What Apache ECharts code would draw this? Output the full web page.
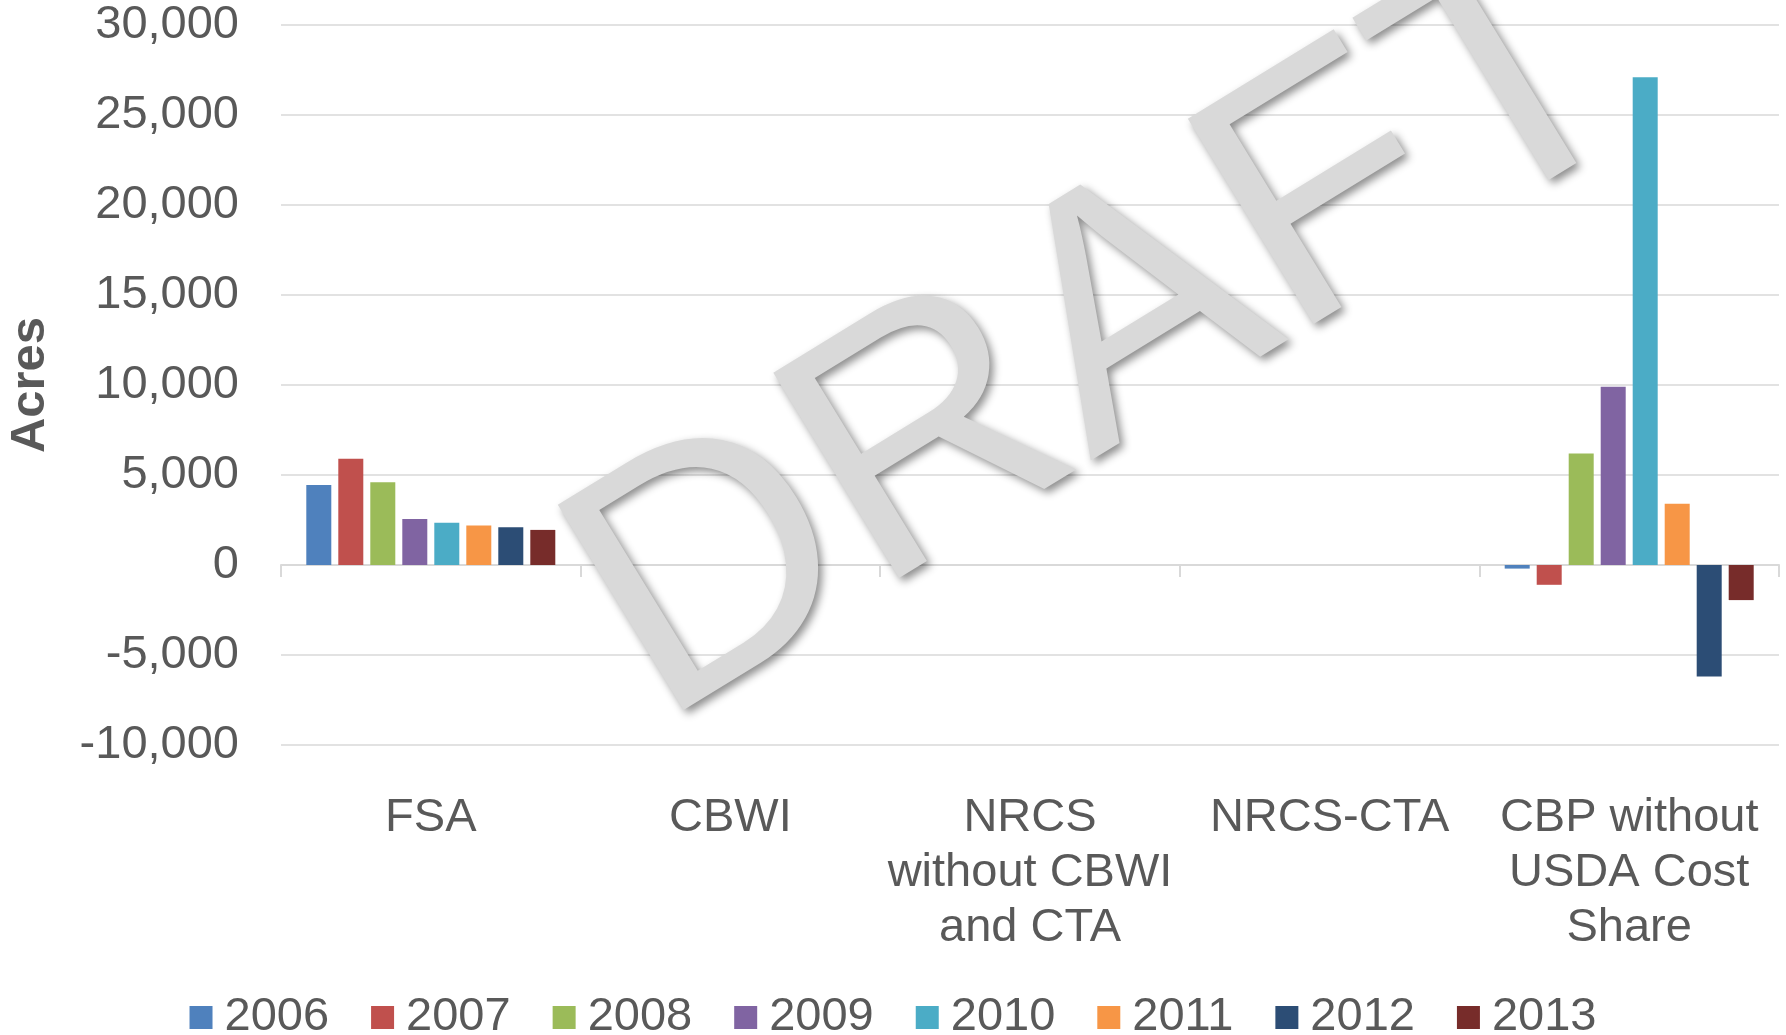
<!DOCTYPE html>
<html>
<head>
<meta charset="utf-8">
<script src="https://cdn.jsdelivr.net/npm/echarts@6/dist/echarts.min.js"></script>
<style>
  html, body { margin: 0; padding: 0; background: #fff; }
  #chart { width: 1786px; height: 1035px; }
</style>
</head>
<body>
<div id="chart"></div>
<script>
var years = ['2006', '2007', '2008', '2009', '2010', '2011', '2012', '2013'];
var categories = ['FSA', 'CBWI', 'NRCS\nwithout CBWI\nand CTA', 'NRCS-CTA', 'CBP without\nUSDA Cost\nShare'];
var yTicks = [-10000, 30000, 5000]; // min, max, step

// acres by year, one array per program
var fsa = [4450, 5900, 4600, 2550, 2350, 2200, 2100, 1950];
var cbwi = [0, 0, 0, 0, 0, 0, 0, 0];
var nrcs = [0, 0, 0, 0, 0, 0, 0, 0];
var nrcsCta = [0, 0, 0, 0, 0, 0, 0, 0];
var cbp = [-200, -1100, 6200, 9900, 27100, 3400, -6200, -1950];

var colors = ['#4F81BD', '#C0504D', '#9BBB59', '#8064A2', '#4BACC6', '#F79646', '#2C4D75', '#772C2A'];

var font = 'Liberation Sans, Arial, sans-serif';
var textColor = '#595959';

var series = [];
for (var i = 0; i < years.length; i++) {
    series.push({
        name: years[i],
        type: 'bar',
        barWidth: 25,
        barGap: '28%',
        itemStyle: { color: colors[i] },
        data: [fsa[i], cbwi[i], nrcs[i], nrcsCta[i], cbp[i]]
    });
}

var mychart = echarts.init(document.getElementById('chart'));
mychart.setOption({
    animation: false,
    color: colors,
    grid: { left: 281, right: 7, top: 25, bottom: 290, containLabel: false, outerBoundsMode: 'none' },
    legend: {
        data: years,
        left: 'center',
        top: 989,
        itemWidth: 23,
        itemHeight: 23,
        itemGap: 42,
        icon: 'rect',
        textStyle: { fontFamily: font, fontSize: 47, color: textColor, padding: [0, 0, 0, 7] }
    },
    xAxis: [{
        type: 'category',
        data: categories,
        position: 'bottom',
        axisLine: { onZero: true, lineStyle: { color: '#d9d9d9', width: 2 } },
        axisTick: { show: true, length: 12, lineStyle: { color: '#d9d9d9', width: 2 } },
        axisLabel: { show: false },
        splitLine: { show: false }
    }, {
        type: 'category',
        data: categories,
        position: 'bottom',
        axisLine: { show: false, onZero: false },
        axisTick: { show: false },
        axisLabel: {
            interval: 0,
            margin: 46,
            fontFamily: font,
            fontSize: 47,
            lineHeight: 55,
            color: textColor
        }
    }],
    yAxis: {
        type: 'value',
        min: yTicks[0],
        max: yTicks[1],
        interval: yTicks[2],
        name: 'Acres',
        nameLocation: 'middle',
        nameRotate: 90,
        nameGap: 226,
        nameTextStyle: {
            fontFamily: 'Liberation Sans Narrow, Arial Narrow, Liberation Sans, sans-serif',
            fontWeight: 'bold',
            fontSize: 49,
            color: textColor
        },
        axisLine: { show: false },
        axisTick: { show: false },
        axisLabel: {
            margin: 42,
            fontFamily: font,
            fontSize: 47,
            color: textColor,
            formatter: function (v) {
                return v.toLocaleString('en-US');
            }
        },
        splitLine: { lineStyle: { color: '#d9d9d9', width: 1.5 } }
    },
    // DRAFT watermark laid over the plot
    graphic: [{
        type: 'text',
        z: 100,
        x: 1106,
        y: 338,
        rotation: 31.5 * Math.PI / 180,
        style: {
            text: 'DRAFT',
            fontFamily: font,
            fontSize: 350,
            fill: '#d9d9d9',
            textAlign: 'center',
            textVerticalAlign: 'middle',
            shadowBlur: 8,
            shadowColor: 'rgba(0,0,0,0.45)',
            shadowOffsetX: 4,
            shadowOffsetY: 4,
            textShadowBlur: 8,
            textShadowColor: 'rgba(0,0,0,0.45)',
            textShadowOffsetX: 4,
            textShadowOffsetY: 4
        }
    }],
    series: series
});
</script>
</body>
</html>
